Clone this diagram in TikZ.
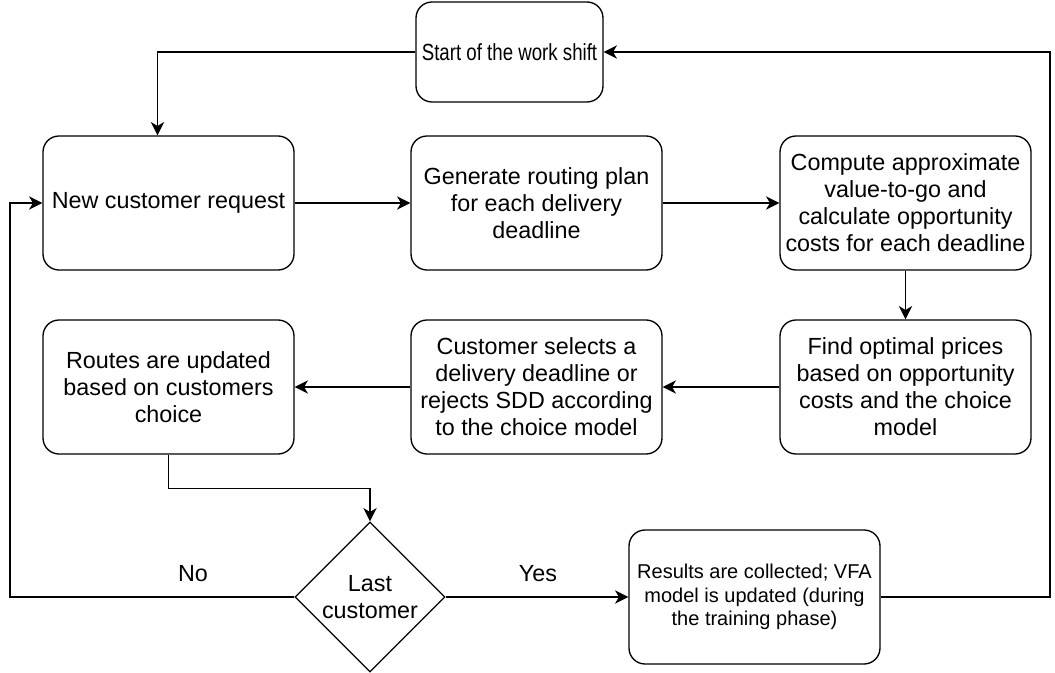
\documentclass[tikz,border=0pt]{standalone}
\usepackage{fontspec}
\setmainfont{Liberation Sans}
\newfontfamily\narrowsans[FakeStretch=0.8]{Liberation Sans}
\usetikzlibrary{arrows.meta, shapes.geometric, calc}

\begin{document}
\begin{tikzpicture}[x=0.75pt, y=-0.75pt,
		stepbox/.style={draw, line width=1pt, rounded corners=12pt, align=center, inner sep=2pt, minimum width=188.25pt, minimum height=100.5pt, font=\fontsize{17.5}{20.3}\selectfont},
		decision/.style={diamond, draw, line width=1pt, aspect=1, inner sep=0pt, align=center, minimum width=112.5pt, minimum height=112.5pt, font=\fontsize{17.5}{20.3}\selectfont},
		flow/.style={draw, line width=1pt, -{Stealth[length=10pt, width=10pt, inset=3pt]}},
		answer/.style={font=\fontsize{17.5}{20.3}\selectfont}]
		\useasboundingbox (0,0) rectangle (1055,673);
		
		\begin{scope}
			\node [stepbox, minimum width=140.25pt, minimum height=75pt, font=\narrowsans\fontsize{17.5}{20.3}\selectfont] (start) at (509.5,52) {Start of the work shift};
			\node [stepbox] (newreq) at (168.5,203) {New customer request};
			\node [stepbox] (routing) at (536.5,203) {Generate routing plan\\for each delivery\\deadline};
			\node [stepbox] (compute) at (905.5,203) {Compute approximate\\value-to-go and\\calculate opportunity\\costs for each deadline};
			\node [stepbox] (prices) at (905.5,387) {Find optimal prices\\based on opportunity\\costs and the choice\\model};
			\node [stepbox] (select) at (536.5,387) {Customer selects a\\delivery deadline or\\rejects SDD according\\to the choice model};
			\node [stepbox] (update) at (168.5,387) {Routes are updated\\based on customers\\choice};
			\node [decision] (last) at (370,597) {Last\\customer};
			\node [stepbox, font=\fontsize{15}{17.6}\selectfont] (results) at (754.5,597) {Results are collected; VFA\\model is updated (during\\the training phase)};
		\end{scope}
		
		\begin{scope}
			\coordinate (loopL) at (10,597);
			\coordinate (loopR) at (1050,597);
			\draw [flow] (start.west) -| ($(newreq.north)+(-11,0)$);
			\draw [flow] (newreq) -- (routing);
			\draw [flow] (routing) -- (compute);
			\draw [flow] (compute) -- (prices);
			\draw [flow] (prices) -- (select);
			\draw [flow] (select) -- (update);
			\draw [flow] (update.south) -- ++(0,34) -| (last.north);
			\draw [flow] (last.west) -- (loopL) |- (newreq.west);
			\draw [flow] (last.east) -- (results.west);
			\draw [flow] (results.east) -- (loopR) |- (start.east);
		\end{scope}
		
		\begin{scope}
			\node [answer] (no) at (193,574) {No};
			\node [answer] (yes) at (538,574) {Yes};
		\end{scope}
	\end{tikzpicture}
\end{document}
